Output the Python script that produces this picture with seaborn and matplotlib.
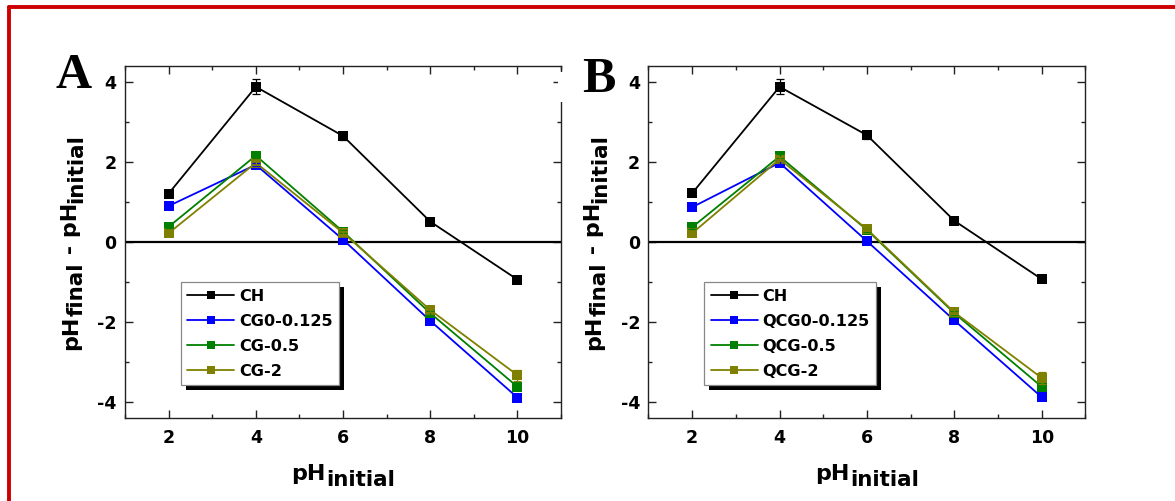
import matplotlib
matplotlib.use('Agg')
import matplotlib.pyplot as plt
import seaborn as sns
import pandas as pd
from matplotlib.ticker import MultipleLocator
from matplotlib.patches import Rectangle
from matplotlib.lines import Line2D

# data
ph_initial = [2, 4, 6, 8, 10]

labels_a = ['CH', 'CG0-0.125', 'CG-0.5', 'CG-2']
labels_b = ['CH', 'QCG0-0.125', 'QCG-0.5', 'QCG-2']
colors = ['#000000', '#0000FF', '#008000', '#808000']

ch_a = [1.21, 3.88, 2.65, 0.51, -0.94]
cg0125_a = [0.90, 1.93, 0.06, -1.97, -3.89]
cg05_a = [0.38, 2.16, 0.26, -1.78, -3.62]
cg2_a = [0.22, 1.98, 0.23, -1.70, -3.33]

err_ch_a = [0.05, 0.19, 0.10, 0.04, 0.04]
err_cg0125_a = [0.04, 0.04, 0.04, 0.05, 0.05]
err_cg05_a = [0.04, 0.05, 0.04, 0.05, 0.06]
err_cg2_a = [0.04, 0.05, 0.04, 0.05, 0.14]

ch_b = [1.22, 3.88, 2.67, 0.53, -0.93]
qcg0125_b = [0.87, 1.98, 0.02, -1.96, -3.88]
qcg05_b = [0.37, 2.14, 0.30, -1.78, -3.62]
qcg2_b = [0.22, 2.07, 0.32, -1.76, -3.40]

err_ch_b = [0.05, 0.19, 0.10, 0.04, 0.04]
err_qcg0125_b = [0.04, 0.04, 0.04, 0.05, 0.05]
err_qcg05_b = [0.04, 0.05, 0.04, 0.05, 0.06]
err_qcg2_b = [0.04, 0.05, 0.04, 0.05, 0.15]

sns.set_style('ticks')
plt.rcParams['font.family'] = ['DejaVu Sans']
plt.rcParams['font.weight'] = 'bold'
plt.rcParams['axes.unicode_minus'] = False
plt.rcParams['axes.linewidth'] = 1.0
plt.rcParams['text.color'] = 'black'
plt.rcParams['axes.labelcolor'] = 'black'
plt.rcParams['xtick.color'] = 'black'
plt.rcParams['ytick.color'] = 'black'
plt.rcParams['xtick.direction'] = 'in'
plt.rcParams['ytick.direction'] = 'in'

fig = plt.figure(figsize=(11.75, 5.01), dpi=100)
ax_a = fig.add_axes([0.1064, 0.1657, 0.3711, 0.7026])
ax_b = fig.add_axes([0.5519, 0.1657, 0.3719, 0.7026])


def make_df(labels, series):
    rows = []
    for lab, vals in zip(labels, series):
        for x, y in zip(ph_initial, vals):
            rows.append({'pH': x, 'delta': y, 'sample': lab})
    return pd.DataFrame(rows)


def compose_xlabel(ax, base, sub):
    first = ax.text(0.5, -0.176, base, transform=ax.transAxes, ha='left',
                    va='baseline', fontsize=16, fontweight='bold')
    second = ax.annotate(sub, xy=(1, -0.176), xycoords=(first, ax.transAxes),
                         xytext=(0.5, -4.5), textcoords='offset points',
                         ha='left', va='baseline', fontsize=15.5, fontweight='bold')
    return [first, second]


def compose_ylabel(ax, pieces):
    # pieces: (text, size, shift in points towards the axis)
    xb = -0.110
    out = []
    t0, s0, _ = pieces[0]
    prev = ax.text(xb, 0.5, t0, transform=ax.transAxes, rotation=90,
                   rotation_mode='anchor', ha='left', va='baseline',
                   fontsize=s0, fontweight='bold')
    out.append(prev)
    for txt, size, shift in pieces[1:]:
        prev = ax.annotate(txt, xy=(xb, 1), xycoords=(ax.transAxes, prev),
                           xytext=(shift, 0), textcoords='offset points',
                           rotation=90, rotation_mode='anchor', ha='left',
                           va='baseline', fontsize=size, fontweight='bold')
        out.append(prev)
    return out


def draw_panel(ax, labels, series, errors):
    df = make_df(labels, series)
    sns.lineplot(data=df, x='pH', y='delta', hue='sample', hue_order=labels,
                 palette=colors, marker='s', markersize=6.5, markeredgewidth=0,
                 linewidth=1.3, errorbar=None, legend=False, ax=ax, zorder=3)
    for vals, err, c in zip(series, errors, colors):
        ax.errorbar(ph_initial, vals, yerr=err, fmt='none', ecolor=c,
                    elinewidth=0.9, capsize=3, capthick=0.9, zorder=3)
    ax.axhline(0, color='black', linewidth=1.6, zorder=2)

    ax.set_xlim(1, 11)
    ax.set_ylim(-4.4, 4.4)
    ax.xaxis.set_major_locator(MultipleLocator(2))
    ax.xaxis.set_minor_locator(MultipleLocator(1))
    ax.yaxis.set_major_locator(MultipleLocator(2))
    ax.yaxis.set_minor_locator(MultipleLocator(1))
    ax.set_xticks(ph_initial)
    ax.tick_params(which='both', direction='in', top=True, right=True, width=1.0,
                   color='#222222')
    ax.tick_params(which='major', length=5.5, labelsize=12.5, labelcolor='black')
    ax.tick_params(which='minor', length=3)
    ax.tick_params(axis='x', which='major', pad=8)
    ax.tick_params(axis='y', which='major', pad=6)
    for lab in ax.get_xticklabels() + ax.get_yticklabels():
        lab.set_fontweight('bold')
    ax.set_xlabel('')
    ax.set_ylabel('')
    for sp in ax.spines.values():
        sp.set_linewidth(1.0)
        sp.set_color('#222222')

    leg_handles = [Line2D([], [], color=c, marker='s', markersize=6, lw=1.3,
                          markeredgewidth=0) for c in colors]
    leg = ax.legend(leg_handles, labels, loc='upper left',
                    bbox_to_anchor=(0.128, 0.386), borderaxespad=0,
                    frameon=True, fancybox=False, framealpha=1,
                    handlelength=2.9, handletextpad=0.3, labelspacing=0.62,
                    borderpad=0.4, prop={'weight': 'bold', 'size': 11.6})
    leg.get_frame().set_facecolor('white')
    leg.get_frame().set_edgecolor('#888888')
    leg.get_frame().set_linewidth(0.9)
    leg.set_zorder(6)
    for t in leg.get_texts():
        t.set_color('black')

    xl = compose_xlabel(ax, 'pH', 'initial')
    yl = compose_ylabel(ax, [('pH', 16, 0), ('final', 15.5, 4),
                             (' - pH', 16, 0), ('initial', 15.5, 4)])
    return leg, xl, yl


panel_a = draw_panel(ax_a, labels_a, [ch_a, cg0125_a, cg05_a, cg2_a],
                     [err_ch_a, err_cg0125_a, err_cg05_a, err_cg2_a])
panel_b = draw_panel(ax_b, labels_b, [ch_b, qcg0125_b, qcg05_b, qcg2_b],
                     [err_ch_b, err_qcg0125_b, err_qcg05_b, err_qcg2_b])

fig.text(55 / 1175, 1 - 88 / 501, 'A', family='Liberation Serif',
         fontweight='bold', fontsize=36, ha='left', va='baseline', zorder=5,
         color='black')
fig.text(582 / 1175, 1 - 92 / 501, 'B', family='Liberation Serif',
         fontweight='bold', fontsize=36, ha='left', va='baseline', zorder=5,
         color='black')
# the B label's white box hides part of panel A's right frame
fig.add_artist(Rectangle((558 / 1175, 1 - 102 / 501), 6 / 1175, 30 / 501,
                         transform=fig.transFigure, facecolor='white',
                         edgecolor='none', zorder=4))

# red frame (top and left edges only)
fig.add_artist(Line2D([8.5 / 1175, 1], [1 - 7 / 501, 1 - 7 / 501],
                      transform=fig.transFigure, color='#cc0000', lw=2.8))
fig.add_artist(Line2D([8.5 / 1175, 8.5 / 1175], [0, 1 - 7 / 501],
                      transform=fig.transFigure, color='#cc0000', lw=2.8))

fig.canvas.draw()
renderer = fig.canvas.get_renderer()
for ax, (leg, xl, yl) in [(ax_a, panel_a), (ax_b, panel_b)]:
    axbox = ax.get_window_extent(renderer)
    # centre the composed labels on the axes
    ext = [t.get_window_extent(renderer) for t in xl]
    cx = (min(e.x0 for e in ext) + max(e.x1 for e in ext)) / 2
    x0, y0 = xl[0].get_position()
    xl[0].set_position((x0 + ((axbox.x0 + axbox.x1) / 2 - cx) / axbox.width, y0))
    ext = [t.get_window_extent(renderer) for t in yl]
    cy = (min(e.y0 for e in ext) + max(e.y1 for e in ext)) / 2
    x0, y0 = yl[0].get_position()
    yl[0].set_position((x0, y0 + ((axbox.y0 + axbox.y1) / 2 - cy) / axbox.height))
    # solid black drop shadow behind the legend
    lb = leg.get_window_extent(renderer)
    (sx0, sy0) = ax.transAxes.inverted().transform((lb.x0 + 5, lb.y0 - 5))
    (sx1, sy1) = ax.transAxes.inverted().transform((lb.x1 + 5, lb.y1 - 5))
    ax.add_patch(Rectangle((sx0, sy0), sx1 - sx0, sy1 - sy0, transform=ax.transAxes,
                           facecolor='black', edgecolor='none', zorder=5.5,
                           clip_on=False))

fig.savefig('out.png', dpi=100)
